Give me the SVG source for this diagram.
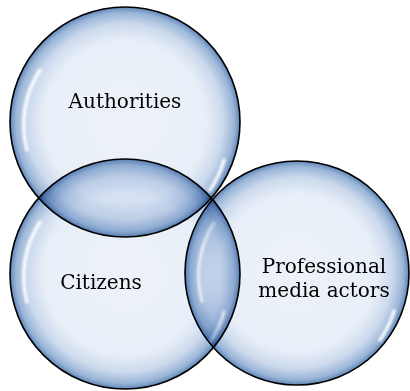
<svg xmlns="http://www.w3.org/2000/svg" width="410" height="391" viewBox="0 0 410 391">
<style>
.n{mix-blend-mode:multiply}
.b{fill:url(#g);stroke:#000;stroke-width:1.6}
.hl{fill:none;stroke:#fff;stroke-width:3.5;stroke-linecap:round;opacity:0.9;filter:url(#bl)}
.t{font-family:"DejaVu Serif",serif;font-size:20px;fill:#000;text-anchor:middle}
</style>
<defs>
<radialGradient id="g" cx="0.5" cy="0.5" r="0.5">
<stop offset="0" stop-color="#EDF2F9"/>
<stop offset="0.7" stop-color="#E9EFF8"/>
<stop offset="0.85" stop-color="#CCDAED"/>
<stop offset="0.95" stop-color="#9AB5D7"/>
<stop offset="1" stop-color="#5F86B8"/>
</radialGradient>
<filter id="bl" x="-20%" y="-20%" width="140%" height="140%"><feGaussianBlur stdDeviation="1.2"/></filter>
</defs>
<g id="authorities" class="n">
<circle class="b" cx="125" cy="122" r="115"/>
<path class="hl" d="M27,150 A100,100 0 0 1 40,70"/>
<path class="hl" d="M224,160 A102,102 0 0 1 210,190"/>
<text class="t" x="125" y="108">Authorities</text>
</g>
<g id="citizens" class="n">
<circle class="b" cx="125" cy="274" r="115"/>
<path class="hl" d="M27,302 A100,100 0 0 1 40,222"/>
<path class="hl" d="M224,312 A102,102 0 0 1 210,342"/>
<text class="t" x="101" y="289">Citizens</text>
</g>
<g id="media" class="n">
<circle class="b" cx="297" cy="273" r="112"/>
<path class="hl" d="M202,301 A97,97 0 0 1 214,223"/>
<path class="hl" d="M394,311 A100,100 0 0 1 380,340"/>
<text class="t" x="324" y="273">Professional</text>
<text class="t" x="324" y="297">media actors</text>
</g>
<g id="connectors"/>
</svg>
